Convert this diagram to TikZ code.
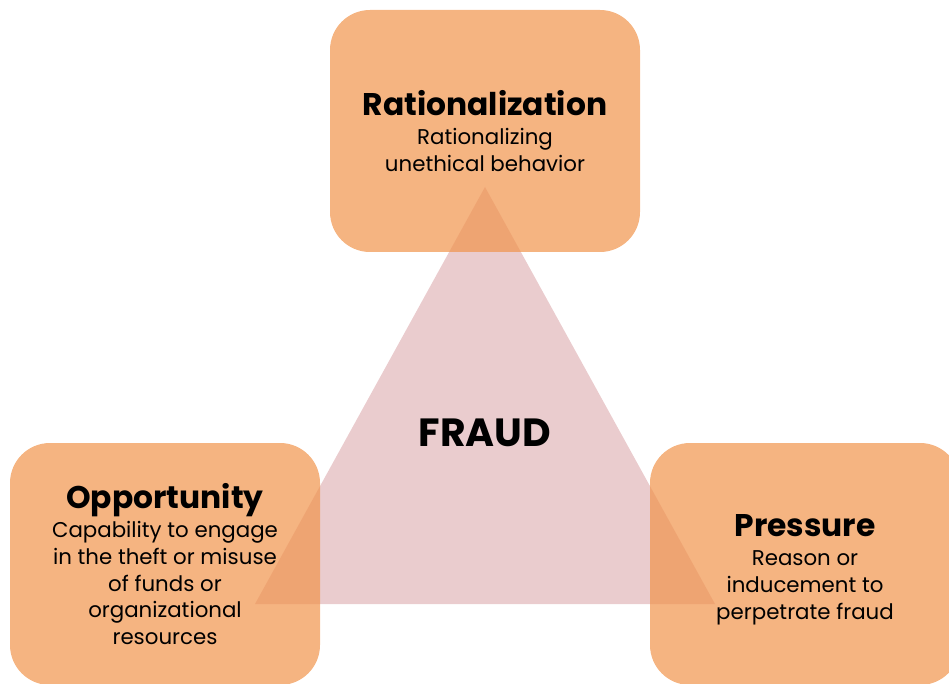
\documentclass[tikz,border=0pt]{standalone}
\usepackage{fontspec}
\setmainfont{Poppins}

\definecolor{peach}{RGB}{241,148,76}
\definecolor{blush}{RGB}{234,204,206}

\newcommand{\factortitle}[1]{{\fontsize{23.5}{20}\selectfont\bfseries #1}}

\begin{document}
\begin{tikzpicture}[
  x=0.75pt, y=-0.75pt,
  factor/.style={fill=peach, fill opacity=0.7, text opacity=1, rounded corners=30pt,
    minimum width=232.5pt, minimum height=181.5pt, inner sep=0pt, align=center,
    font=\fontsize{16}{20}\selectfont},
  heading/.style={font=\fontsize{29.5}{32}\selectfont\bfseries}
]
\clip (0,0) rectangle (949,684);

% triangle behind the three boxes
\coordinate (apex) at (485,187);
\coordinate (baseL) at (255,604);
\coordinate (baseR) at (715,604);
\fill[blush] (apex) -- (baseL) -- (baseR) -- cycle;

\node[factor] (rational) at (485,131)
  {\factortitle{Rationalization}\\[2pt]Rationalizing\\unethical behavior};
\node[factor] (opport) at (165,564)
  {\factortitle{Opportunity}\\[2pt]Capability to engage\\in the theft or misuse\\of funds or\\organizational\\resources};
\node[factor] (pressure) at (805,564)
  {\rule{0pt}{25pt}\factortitle{Pressure}\\[2pt]Reason or\\inducement to\\perpetrate fraud};

\node[heading] (fraud) at (485,433) {FRAUD};

\end{tikzpicture}
\end{document}
